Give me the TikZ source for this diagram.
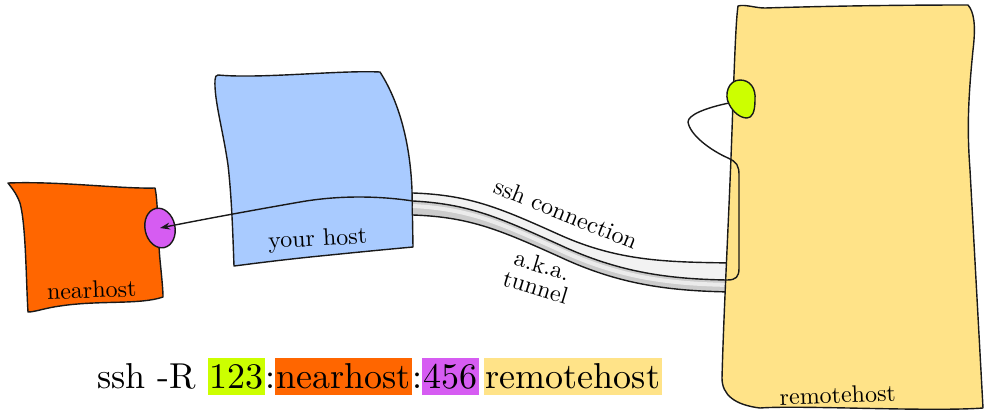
\documentclass[tikz,border=0pt]{standalone}
\usepackage{fontspec}
\setmainfont{lmroman10-regular}[Extension=.otf]
\usetikzlibrary{arrows.meta}
\definecolor{nearc}{HTML}{FF6600}
\definecolor{bluec}{HTML}{A9CBFF}
\definecolor{remc}{HTML}{FFE388}
\definecolor{greenc}{HTML}{CCFF00}
\definecolor{purpc}{HTML}{D65CF2}
\newcommand\hlbox[2]{{\setlength{\fboxsep}{0pt}\colorbox{#1}{\kern1.5pt\rule[-7pt]{0pt}{37pt}#2\kern1.5pt}}}
\tikzset{
  hostshape/.style={draw=black!90, line width=1.4pt, line join=round},
  tubeline/.style={draw=black!90, line width=1.4pt},
  conn/.style={draw=black!90, line width=1.4pt, line join=round},
  lbl/.style={font=\fontsize{24}{26}\selectfont, inner sep=0pt, text=black},
}
\begin{document}
\begin{tikzpicture}[x=1pt,y=-1pt]
\useasboundingbox (0,0) rectangle (984,413);
% nearhost
\path[hostshape, fill=nearc] (8,183) .. controls (60,181) and (120,189) .. (155,188)
  .. controls (158,200) and (158,240) .. (160,260) .. controls (162,280) and (163,290) .. (163,297)
  .. controls (140,305) and (100,300) .. (60,306) .. controls (45,308) and (35,312) .. (28,312)
  .. controls (26,280) and (26,225) .. (20,203) .. controls (16,192) and (10,186) .. (8,183) -- cycle;
\path[hostshape, fill=purpc, rotate around={12:(160,228)}] (160,228) coordinate (pp) ellipse [x radius=15, y radius=20];
\node[lbl, anchor=base, rotate=2] (nearlbl) at (92,298) {nearhost};
% your host
\path[hostshape, fill=bluec] (218,75) .. controls (260,79) and (340,70) .. (380,72)
  .. controls (398,100) and (410,140) .. (412,190) -- (413,247)
  .. controls (380,250) and (360,252) .. (320,256) .. controls (280,260) and (250,264) .. (234,266)
  .. controls (233,240) and (232,200) .. (228,165) .. controls (223,130) and (214,100) .. (215,80)
  .. controls (215,77) and (216,75) .. (218,75) -- cycle;
\node[lbl, anchor=base, rotate=3] (yourlbl) at (318,246) {your host};
% tunnel
\fill[black!5] (413,193) .. controls (470,195) and (500,208) .. (560,235) .. controls (620,262) and (670,262) .. (732,263)
  -- (732,280) .. controls (670,279) and (620,273) .. (560,245) .. controls (500,218) and (470,204) .. (413,201) -- cycle;
\fill[black!20] (413,201) .. controls (470,204) and (500,218) .. (560,245) .. controls (620,273) and (670,279) .. (732,280)
  -- (732,292) .. controls (670,291) and (620,285) .. (560,257) .. controls (500,230) and (470,217) .. (413,215) -- cycle;
\draw[black!8, line width=4pt] (413,206) .. controls (470,209) and (500,223) .. (560,250) .. controls (620,278) and (670,284) .. (732,285);
\draw[tubeline] (413,193) .. controls (470,195) and (500,208) .. (560,235) .. controls (620,262) and (670,262) .. (732,263);
\draw[tubeline] (413,215) .. controls (470,217) and (500,230) .. (560,257) .. controls (620,285) and (670,291) .. (732,292);
\node[lbl, anchor=base, rotate=-22] (sshlbl) at (563,221) {ssh connection};
\node[lbl, align=center, rotate=-17] (akalbl) at (539,276) {a.k.a.\\[-3pt]tunnel};
% remotehost
\path[hostshape, fill=remc] (738,6) .. controls (745,4) and (755,8) .. (765,8)
  .. controls (830,6) and (900,5) .. (968,5) .. controls (974,12) and (976,25) .. (973,50)
  .. controls (968,100) and (967,130) .. (970,170) -- (983,408)
  .. controls (930,412) and (800,405) .. (760,408) .. controls (735,405) and (722,395) .. (722,378)
  .. controls (724,300) and (730,200) .. (733,100) .. controls (735,50) and (736,20) .. (738,6) -- cycle;
\path[hostshape, fill=greenc] (740,80) .. controls (750,80) and (756,88) .. (755,100)
  .. controls (755,112) and (752,118) .. (747,118) .. controls (740,118) and (733,112) .. (729,104)
  .. controls (724,95) and (728,80) .. (740,80) -- cycle;
\coordinate (gp) at (729,103);
\node[lbl, anchor=base, rotate=2] (remlbl) at (838,403) {remotehost};
% connection
\draw[conn, -{Stealth[length=10pt, width=7pt]}] (gp) .. controls (705,108) and (688,115) .. (688,122)
  .. controls (690,135) and (710,150) .. (728,158) .. controls (737,162) and (739,166) .. (739,175)
  -- (739,268) .. controls (739,277) and (736,280) .. (727,280)
  .. controls (670,279) and (620,273) .. (560,245) .. controls (500,218) and (470,204) .. (413,201)
  .. controls (380,196) and (340,195) .. (300,202) .. controls (260,209) and (210,218) .. (pp);
% command
\node[anchor=base west, inner sep=0pt, font=\fontsize{36}{40}\selectfont, text=black] (cmd) at (97,388)
  {ssh -R \hlbox{greenc}{123}:\hlbox{nearc}{nearhost}:\hlbox{purpc}{456}\kern5pt\hlbox{remc}{remotehost}};
\end{tikzpicture}
\end{document}
